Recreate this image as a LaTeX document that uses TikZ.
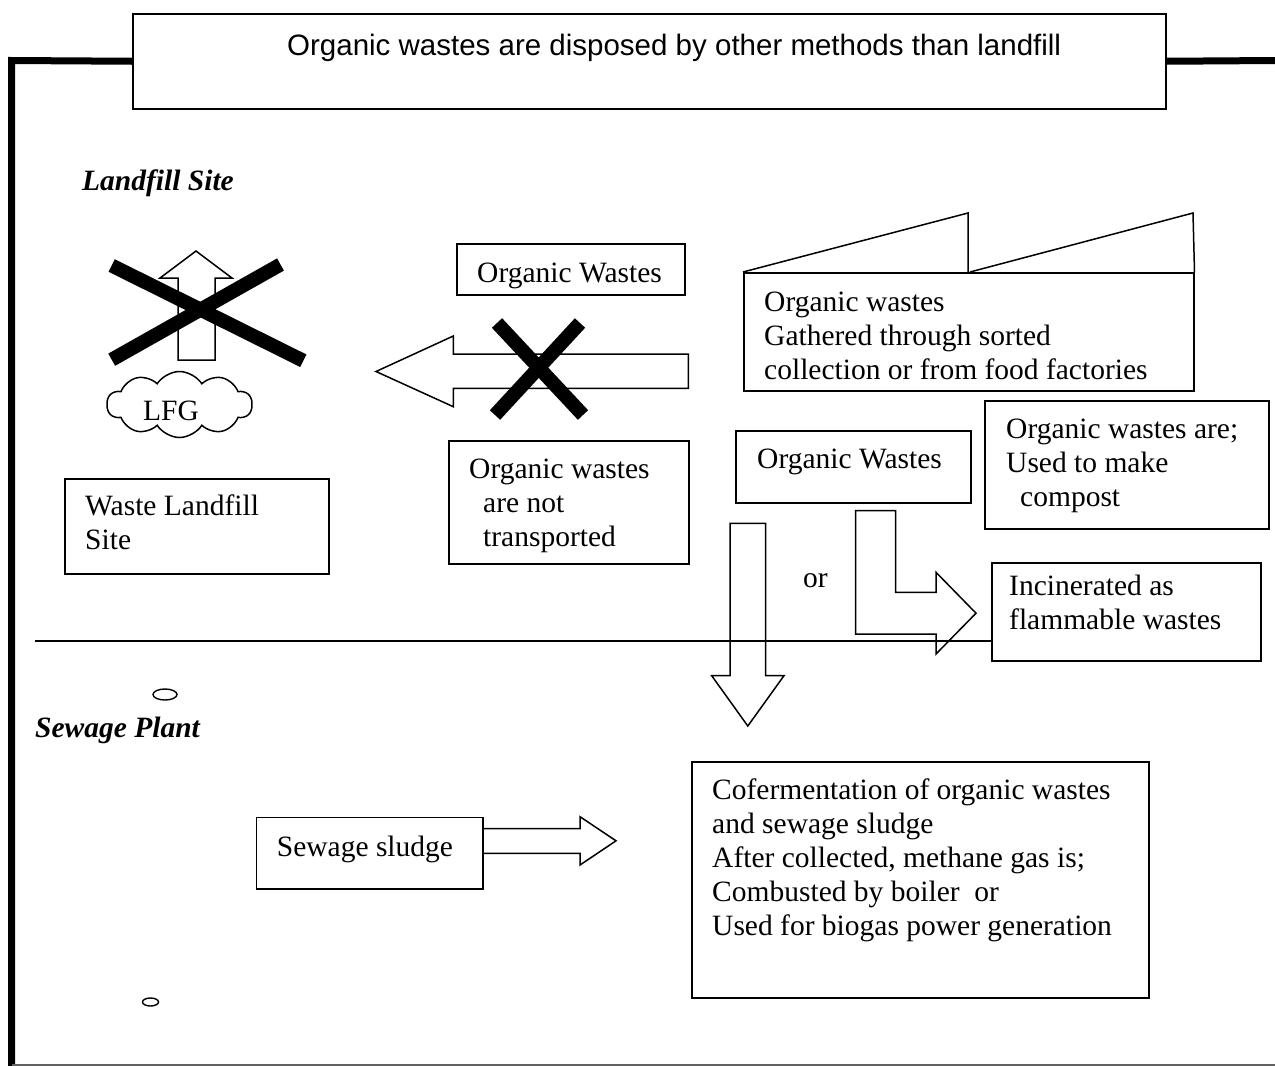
\documentclass[tikz,border=0pt]{standalone}
\usepackage{fontspec}
\setmainfont{Liberation Serif}
\newfontfamily\headfont{Liberation Sans}
\usetikzlibrary{shapes.symbols,shapes.geometric}

\newcommand\bodysize{\fontsize{29.5}{34}\selectfont}

\begin{document}
\begin{tikzpicture}[x=1pt,y=-1pt,
  box/.style={draw, line width=1.5pt, inner sep=0pt, anchor=north west},
  txt/.style={font=\bodysize, align=left, inner sep=0pt, anchor=north west, yshift=-2.5pt},
  word/.style={font=\bodysize, inner sep=0pt, anchor=base west, yshift=-2.5pt},
  heading/.style={font=\bodysize\bfseries\itshape, inner sep=0pt, anchor=base west, yshift=-2.5pt},
  blockarrow/.style={draw, line width=1.5pt, line join=miter},
  cross/.style={line width=14pt, line cap=butt},
  bead/.style={draw, ellipse, line width=1.4pt, inner sep=0pt},
]
\useasboundingbox (0,0) rectangle (1275,1066);

% title banner and outer frame
\node[box, minimum width=1033, minimum height=95] (title) at (132,13) {};
\node[font=\headfont\bodysize, inner sep=0pt, anchor=base west, yshift=-2pt] (titletext) at (287,53.5)
  {Organic wastes are disposed by other methods than landfill};
\draw[line width=7pt, line join=miter] (title.west) -- (11.5,60.5) -- (11.5,1066);
\draw[line width=7pt] (title.east) -- (1275,60.5);
\draw[line width=1.3pt, black!62] (11.5,1065) -- (1275,1065);

% ---------------- landfill site ----------------
\node[heading] (landfill) at (82,188) {Landfill Site};

% landfill gas rising, crossed out
\draw[blockarrow] (178,360) -- (178,278) -- (160,278) -- (196,251) -- (232,278)
  -- (215,278) -- (215,360) -- cycle;
\draw[cross] (111.7,265.5) -- (303.3,360.7);
\draw[cross] (111.7,359.7) -- (280.5,264.5);

\node[cloud, draw, line width=1.5pt, cloud puffs=10, cloud puff arc=115, aspect=2.2,
  minimum width=145, minimum height=66, inner sep=0pt] (lfg) at (179.5,404.5) {};
\node[word] (lfgtext) at (143,418) {LFG};

\node[box, minimum width=264, minimum height=95] (wlbox) at (64,478) {};
\node[txt] (wltext) at (85,489.2) {\strut Waste Landfill\\Site};

% organic wastes no longer carried to the landfill
\node[box, minimum width=228, minimum height=51] (owtop) at (456,243) {};
\node[word] (owtoptext) at (477,280) {Organic Wastes};

\draw[blockarrow] (688.3,354) -- (453.3,354) -- (453.3,336) -- (376,371.5)
  -- (453.3,406.7) -- (453.3,388.3) -- (688.3,388.3) -- cycle;
\draw[cross] (497,323) -- (583,415);
\draw[cross] (580,323) -- (495,415);

\node[box, minimum width=240, minimum height=123] (ntbox) at (448,440) {};
\node[txt] (nttext) at (469,452.2)
  {\strut Organic wastes\\\hspace*{14pt}are not\\\hspace*{14pt}transported};

% source of the organic wastes (factory outline)
\node[box, minimum width=450, minimum height=118] (factory) at (743,272) {};
\draw[line width=1.5pt, line join=miter] (factory.north west) -- (968,213) -- (968,272);
\draw[line width=1.5pt, line join=miter] (970,272) -- (1193,213) -- (factory.north east);
\node[txt] (factorytext) at (764,285.2)
  {\strut Organic wastes\\Gathered through sorted\\collection or from food factories};

% alternative treatments
\node[box, minimum width=235, minimum height=72] (owmid) at (735,430) {};
\node[word] (owmidtext) at (757,466) {Organic Wastes};

\node[box, minimum width=284, minimum height=128] (compost) at (984,400) {};
\node[txt] (composttext) at (1006,412.2)
  {\strut Organic wastes are;\\Used to make\\\hspace*{14pt}compost};

\node[box, minimum width=269, minimum height=98] (incin) at (991,562) {};
\node[txt] (incintext) at (1009,569.2) {\strut Incinerated as\\flammable wastes};

\draw[blockarrow] (730,523.3) -- (765.7,523.3) -- (765.7,675.7) -- (784,675.7)
  -- (747.8,726) -- (711.7,675.7) -- (730,675.7) -- cycle;
\node[word] (or) at (803,585) {or};
\draw[blockarrow] (855.7,510.7) -- (895.7,510.7) -- (895.7,592.3) -- (936,592.3)
  -- (936,572.3) -- (976,613.2) -- (936,654) -- (936,634) -- (855.7,634) -- cycle;

% boundary between the two sites
\coordinate (sepL) at (35,641);
\draw[line width=1.5pt] (sepL) -- (sepL -| incin.west);

% ---------------- sewage plant ----------------
\node[bead, minimum width=24, minimum height=11] (bead1) at (165,694.5) {};
\node[heading] (sewage) at (35,735) {Sewage Plant};
\node[bead, minimum width=16, minimum height=8] (bead2) at (150.5,1002) {};

\node[box, minimum width=226.6, minimum height=71.6] (sludge) at (255.7,816.7) {};
\node[word] (sludgetext) at (276.7,854) {Sewage sludge};
\draw[blockarrow] (sludge.east |- 0,828.7) -- (580,828.7) -- (580,816.7) -- (616,840.8)
  -- (580,865) -- (580,853.3) -- (sludge.east |- 0,853.3);

\node[box, minimum width=457, minimum height=236] (cofer) at (691,761) {};
\node[txt] (cofertext) at (712,773.2)
  {\strut Cofermentation of organic wastes\\and sewage sludge\\After collected, methane gas is;\\Combusted by boiler\ \ or\\Used for biogas power generation};
\end{tikzpicture}
\end{document}
